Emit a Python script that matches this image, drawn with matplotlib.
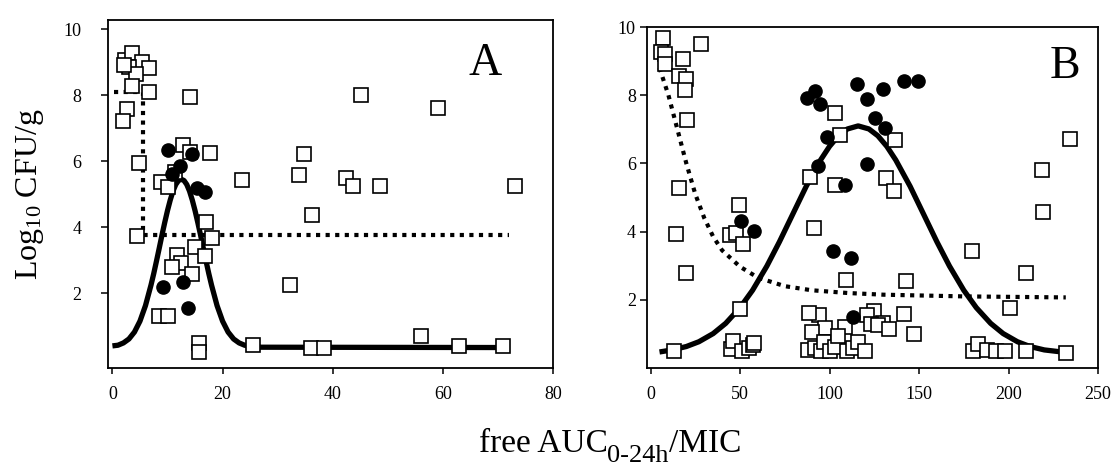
"""Two-panel scatter: log10 CFU/g vs free AUC(0-24h)/MIC, panels A and B."""

import matplotlib

matplotlib.use("Agg")  # headless

import matplotlib.pyplot as plt

plt.rcParams["font.family"] = ["Liberation Serif", "DejaVu Serif"]
plt.rcParams["mathtext.fontset"] = "custom"
plt.rcParams["mathtext.rm"] = "Liberation Serif"
plt.rcParams["mathtext.it"] = "Liberation Serif:italic"

# ---- panel A -------------------------------------------------------------
a_sq_x = [2.3, 3.6, 5.3, 6.6, 3.1, 4.3, 2.1, 3.5, 6.7, 2.7, 1.9, 14.0, 4.9, 12.9,
          17.8, 8.9, 10.1, 11.4, 14.1, 23.5, 34.8, 33.8, 45.1, 59.2, 42.5, 43.7,
          48.6, 73.1, 36.2, 4.5, 17.0, 18.0, 15.0, 16.8, 11.8, 12.4, 10.9, 14.4,
          32.2, 8.5, 10.1, 15.8, 15.8, 25.5, 36.0, 38.5, 56.0, 63.0, 71.0]
a_sq_y = [9.06, 9.28, 9.01, 8.81, 8.86, 8.64, 8.90, 8.27, 8.10, 7.57, 7.21, 7.93,
          5.95, 6.48, 6.25, 5.37, 5.22, 5.68, 6.28, 5.42, 6.21, 5.58, 8.00, 7.60,
          5.48, 5.24, 5.24, 5.24, 4.36, 3.73, 4.16, 3.66, 3.40, 3.12, 3.15, 2.90,
          2.78, 2.57, 2.24, 1.30, 1.30, 0.50, 0.22, 0.42, 0.33, 0.33, 0.70, 0.40,
          0.40]
a_dot_x = [10.1, 14.4, 12.3, 10.8, 15.3, 16.8, 9.2, 12.9, 13.8]
a_dot_y = [6.33, 6.23, 5.85, 5.61, 5.17, 5.07, 2.19, 2.34, 1.54]

a_fit_x = [0, 1, 2, 3, 4, 5, 6, 7, 7.5, 8, 8.5, 9, 9.5, 10, 10.5, 11, 11.5, 12,
           12.5, 13, 13.5, 14, 14.5, 15, 15.5, 16, 16.5, 17, 17.5, 18, 19, 20,
           21, 22, 23, 24, 25, 27, 72]
a_fit_y = [0.40, 0.42, 0.49, 0.61, 0.82, 1.15, 1.62, 2.24, 2.59, 2.97, 3.36,
           3.76, 4.14, 4.50, 4.82, 5.09, 5.29, 5.41, 5.45, 5.41, 5.29, 5.09,
           4.82, 4.50, 4.14, 3.76, 3.36, 2.97, 2.59, 2.24, 1.62, 1.15, 0.82,
           0.61, 0.49, 0.42, 0.39, 0.36, 0.35]
a_step_x = [0.3, 5.6, 5.6, 72]
a_step_y = [8.1, 8.1, 3.76, 3.76]

# ---- panel B -------------------------------------------------------------
b_sq_x = [7.0, 5.6, 8.0, 8.0, 18.1, 28.3, 15.9, 20.0, 19.5, 20.3, 15.7, 49.6,
          89.3, 103.2, 105.9, 136.4, 234.3, 218.6, 103.2, 131.8, 136.0, 219.2,
          179.8, 209.9, 109.0, 142.5, 200.6, 141.6, 125.0, 120.7, 93.9, 129.9,
          97.6, 108.7, 14.5, 20.0, 44.4, 47.7, 51.8, 91.1, 49.9, 88.4,
          13.0, 45.0, 46.0, 51.0, 55.0, 57.0, 58.0, 88.0, 90.0, 92.0, 95.0,
          97.0, 100.0, 103.0, 105.0, 110.0, 113.0, 116.0, 120.0, 123.0, 127.0,
          133.0, 147.0, 180.0, 183.0, 188.0, 193.0, 198.0, 210.0, 232.0]
b_sq_y = [9.67, 9.26, 9.20, 8.91, 9.06, 9.50, 8.57, 8.47, 8.16, 7.26, 5.29, 4.79,
          5.61, 7.49, 6.82, 6.69, 6.73, 5.82, 5.38, 5.58, 5.19, 4.58,
          3.42, 2.78, 2.59, 2.54, 1.77, 1.59, 1.66, 1.56, 1.56, 1.31,
          1.17, 1.21, 3.94, 2.80, 3.91, 3.96, 3.65, 4.11, 1.73, 1.61,
          0.50, 0.55, 0.80, 0.50, 0.58, 0.68, 0.72, 0.52, 1.05, 0.60, 0.50,
          0.75, 0.50, 0.62, 0.95, 0.50, 0.60, 0.75, 0.50, 1.30, 1.25,
          1.15, 1.00, 0.50, 0.70, 0.52, 0.50, 0.50, 0.50, 0.45]
b_dot_x = [87.4, 92.1, 94.8, 98.5, 93.3, 115.1, 120.7, 129.9, 141.6, 149.3,
           125.3, 130.9, 120.7, 108.7, 50.5, 57.9, 102.2, 111.8, 113.3]
b_dot_y = [7.93, 8.13, 7.74, 6.76, 5.92, 8.32, 7.88, 8.18, 8.42, 8.42,
           7.34, 7.05, 5.97, 5.38, 4.30, 4.01, 3.42, 3.23, 1.51]

b_fit_x = [5, 12, 20, 27, 35, 42, 50, 57, 65, 72, 80, 87, 95, 100, 105, 110,
           116, 122, 127, 132, 137, 145, 152, 160, 167, 175, 182, 190, 197,
           205, 212, 220, 233]
b_fit_y = [0.47, 0.53, 0.63, 0.77, 1.01, 1.31, 1.77, 2.28, 2.99, 3.70, 4.57,
           5.33, 6.10, 6.50, 6.81, 7.01, 7.10, 7.01, 6.81, 6.50, 6.10, 5.33,
           4.57, 3.70, 2.99, 2.28, 1.77, 1.31, 1.01, 0.77, 0.63, 0.53, 0.45]
b_decay_x = [5, 10, 15, 20, 25, 30, 35, 40, 50, 60, 75, 90, 110, 130, 175, 232]
b_decay_y = [8.80, 8.00, 7.00, 6.00, 5.10, 4.40, 3.85, 3.45, 2.97, 2.65, 2.40,
             2.28, 2.20, 2.15, 2.10, 2.07]

y_ticks = [2, 4, 6, 8, 10]
a_x_ticks = [0, 20, 40, 60, 80]
b_x_ticks = [0, 50, 100, 150, 200, 250]

_SQ = dict(linestyle="none", marker="s", markersize=10, markerfacecolor="white",
           markeredgecolor="black", markeredgewidth=1.2, zorder=3)
_DOT = dict(linestyle="none", marker="o", markersize=9.5, color="black", zorder=4)
_FIT = dict(color="black", linewidth=3.8, solid_joinstyle="round",
            solid_capstyle="butt", zorder=2)
_DOTTED = dict(color="black", linewidth=3.0, linestyle=(0, (1, 1.3)), zorder=2)


def _style(ax, xticks, ypad):
    for side in ("left", "right", "top", "bottom"):
        ax.spines[side].set_linewidth(1.3)
    ax.set_xticks(xticks)
    ax.set_yticks(y_ticks)
    ax.tick_params(axis="y", direction="out", length=5, width=1.1, pad=ypad, labelsize=13)
    ax.tick_params(axis="x", direction="out", length=4, width=1.1, pad=9, labelsize=13)


def _xlabel(fig, center_x, base_y):
    """'free AUC' + near full-size lowered '0-24h' + '/MIC', centred on center_x."""
    pieces = [("free AUC", 24, 0.0), ("0-24h", 19, -0.021), ("/MIC", 24, 0.0)]
    renderer = fig.canvas.get_renderer()
    texts = [fig.text(0, base_y + dy, s, fontsize=size, va="baseline") for s, size, dy in pieces]
    widths = [t.get_window_extent(renderer).width / fig.bbox.width for t in texts]
    x = center_x - sum(widths) / 2
    for t, w in zip(texts, widths):
        t.set_x(x)
        x += w


fig = plt.figure(figsize=(11.17, 4.65), dpi=100)
ax_a = fig.add_axes([0.0967, 0.2086, 0.3984, 0.748])
ax_b = fig.add_axes([0.5792, 0.2086, 0.4038, 0.7333])

ax_a.plot(a_fit_x, a_fit_y, **_FIT)
ax_a.plot(a_step_x, a_step_y, **_DOTTED)
ax_a.plot(a_sq_x, a_sq_y, **_SQ)
ax_a.plot(a_dot_x, a_dot_y, **_DOT)
ax_a.set_xlim(-0.8, 80)
ax_a.set_ylim(-0.27, 10.27)
_style(ax_a, a_x_ticks, 14)
ax_a.text(0.847, 0.876, "A", transform=ax_a.transAxes, fontsize=33,
          ha="center", va="center")

ax_b.plot(b_fit_x, b_fit_y, **_FIT)
ax_b.plot(b_decay_x, b_decay_y, **_DOTTED)
ax_b.plot(b_sq_x, b_sq_y, **_SQ)
ax_b.plot(b_dot_x, b_dot_y, **_DOT)
ax_b.set_xlim(-2, 248)
ax_b.set_ylim(0, 10)
_style(ax_b, b_x_ticks, 3)
ax_b.text(0.927, 0.884, "B", transform=ax_b.transAxes, fontsize=33,
          ha="center", va="center")

fig.text(0.027, 0.583, "Log$_{10}$ CFU/g", rotation=90, fontsize=23,
         ha="center", va="center")
_xlabel(fig, 0.546, 0.027)

fig.savefig("out.png", dpi=100)
plt.close(fig)
